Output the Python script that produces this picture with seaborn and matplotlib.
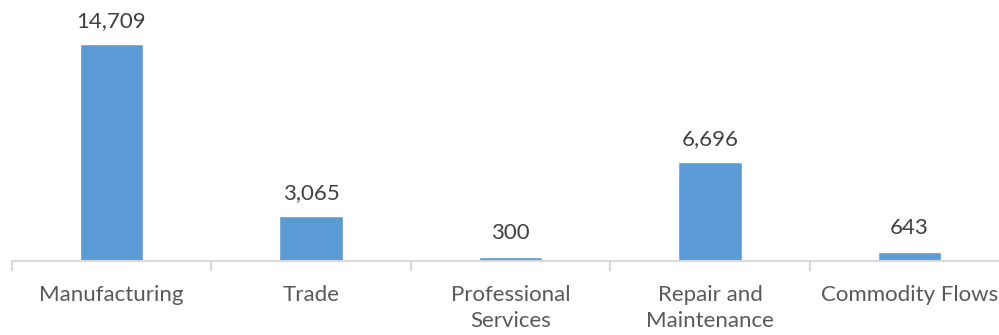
import matplotlib
matplotlib.use("Agg")
import matplotlib.pyplot as plt
import seaborn as sns
import pandas as pd

categories = ["Manufacturing", "Trade", "Professional\nServices",
              "Repair and\nMaintenance", "Commodity Flows"]
values = [14709, 3065, 300, 6696, 643]

sns.set_theme(style="white")
plt.rcParams["font.family"] = ["Lato", "DejaVu Sans"]

df = pd.DataFrame({"category": categories, "value": values})

fig = plt.figure(figsize=(9.99, 3.35), dpi=100)
W, H = 999, 335
ax = fig.add_axes([11.75 / W, 74 / H, 997.5 / W, 236 / H])

sns.barplot(data=df, x="category", y="value", color="#5B9BD5",
            width=0.316, saturation=1, ax=ax)

ax.set_ylim(0, 16000)
ax.set_xlim(-0.5, len(categories) - 0.5)
ax.set_xlabel("")
ax.set_ylabel("")
ax.set_yticks([])

for s in ["top", "right", "left"]:
    ax.spines[s].set_visible(False)
ax.spines["bottom"].set_color("#D9D9D9")
ax.spines["bottom"].set_linewidth(1.5)

# category separators as ticks
ax.set_xticks([i - 0.5 for i in range(len(categories) + 1)], minor=True)
ax.tick_params(axis="x", which="minor", length=7, width=1.5,
               color="#D9D9D9", direction="out", bottom=True)
ax.tick_params(axis="x", which="major", length=0, pad=17,
               labelsize=16, labelcolor="#595959")
for lbl in ax.get_xticklabels():
    lbl.set_linespacing(1.42)
    lbl.set_verticalalignment("top")

for i, v in enumerate(values):
    ax.annotate(f"{v:,}", xy=(i, v), xytext=(0, 9.5), textcoords="offset points",
                ha="center", va="bottom", fontsize=16, color="#404040")

fig.savefig("out.png", dpi=100)
